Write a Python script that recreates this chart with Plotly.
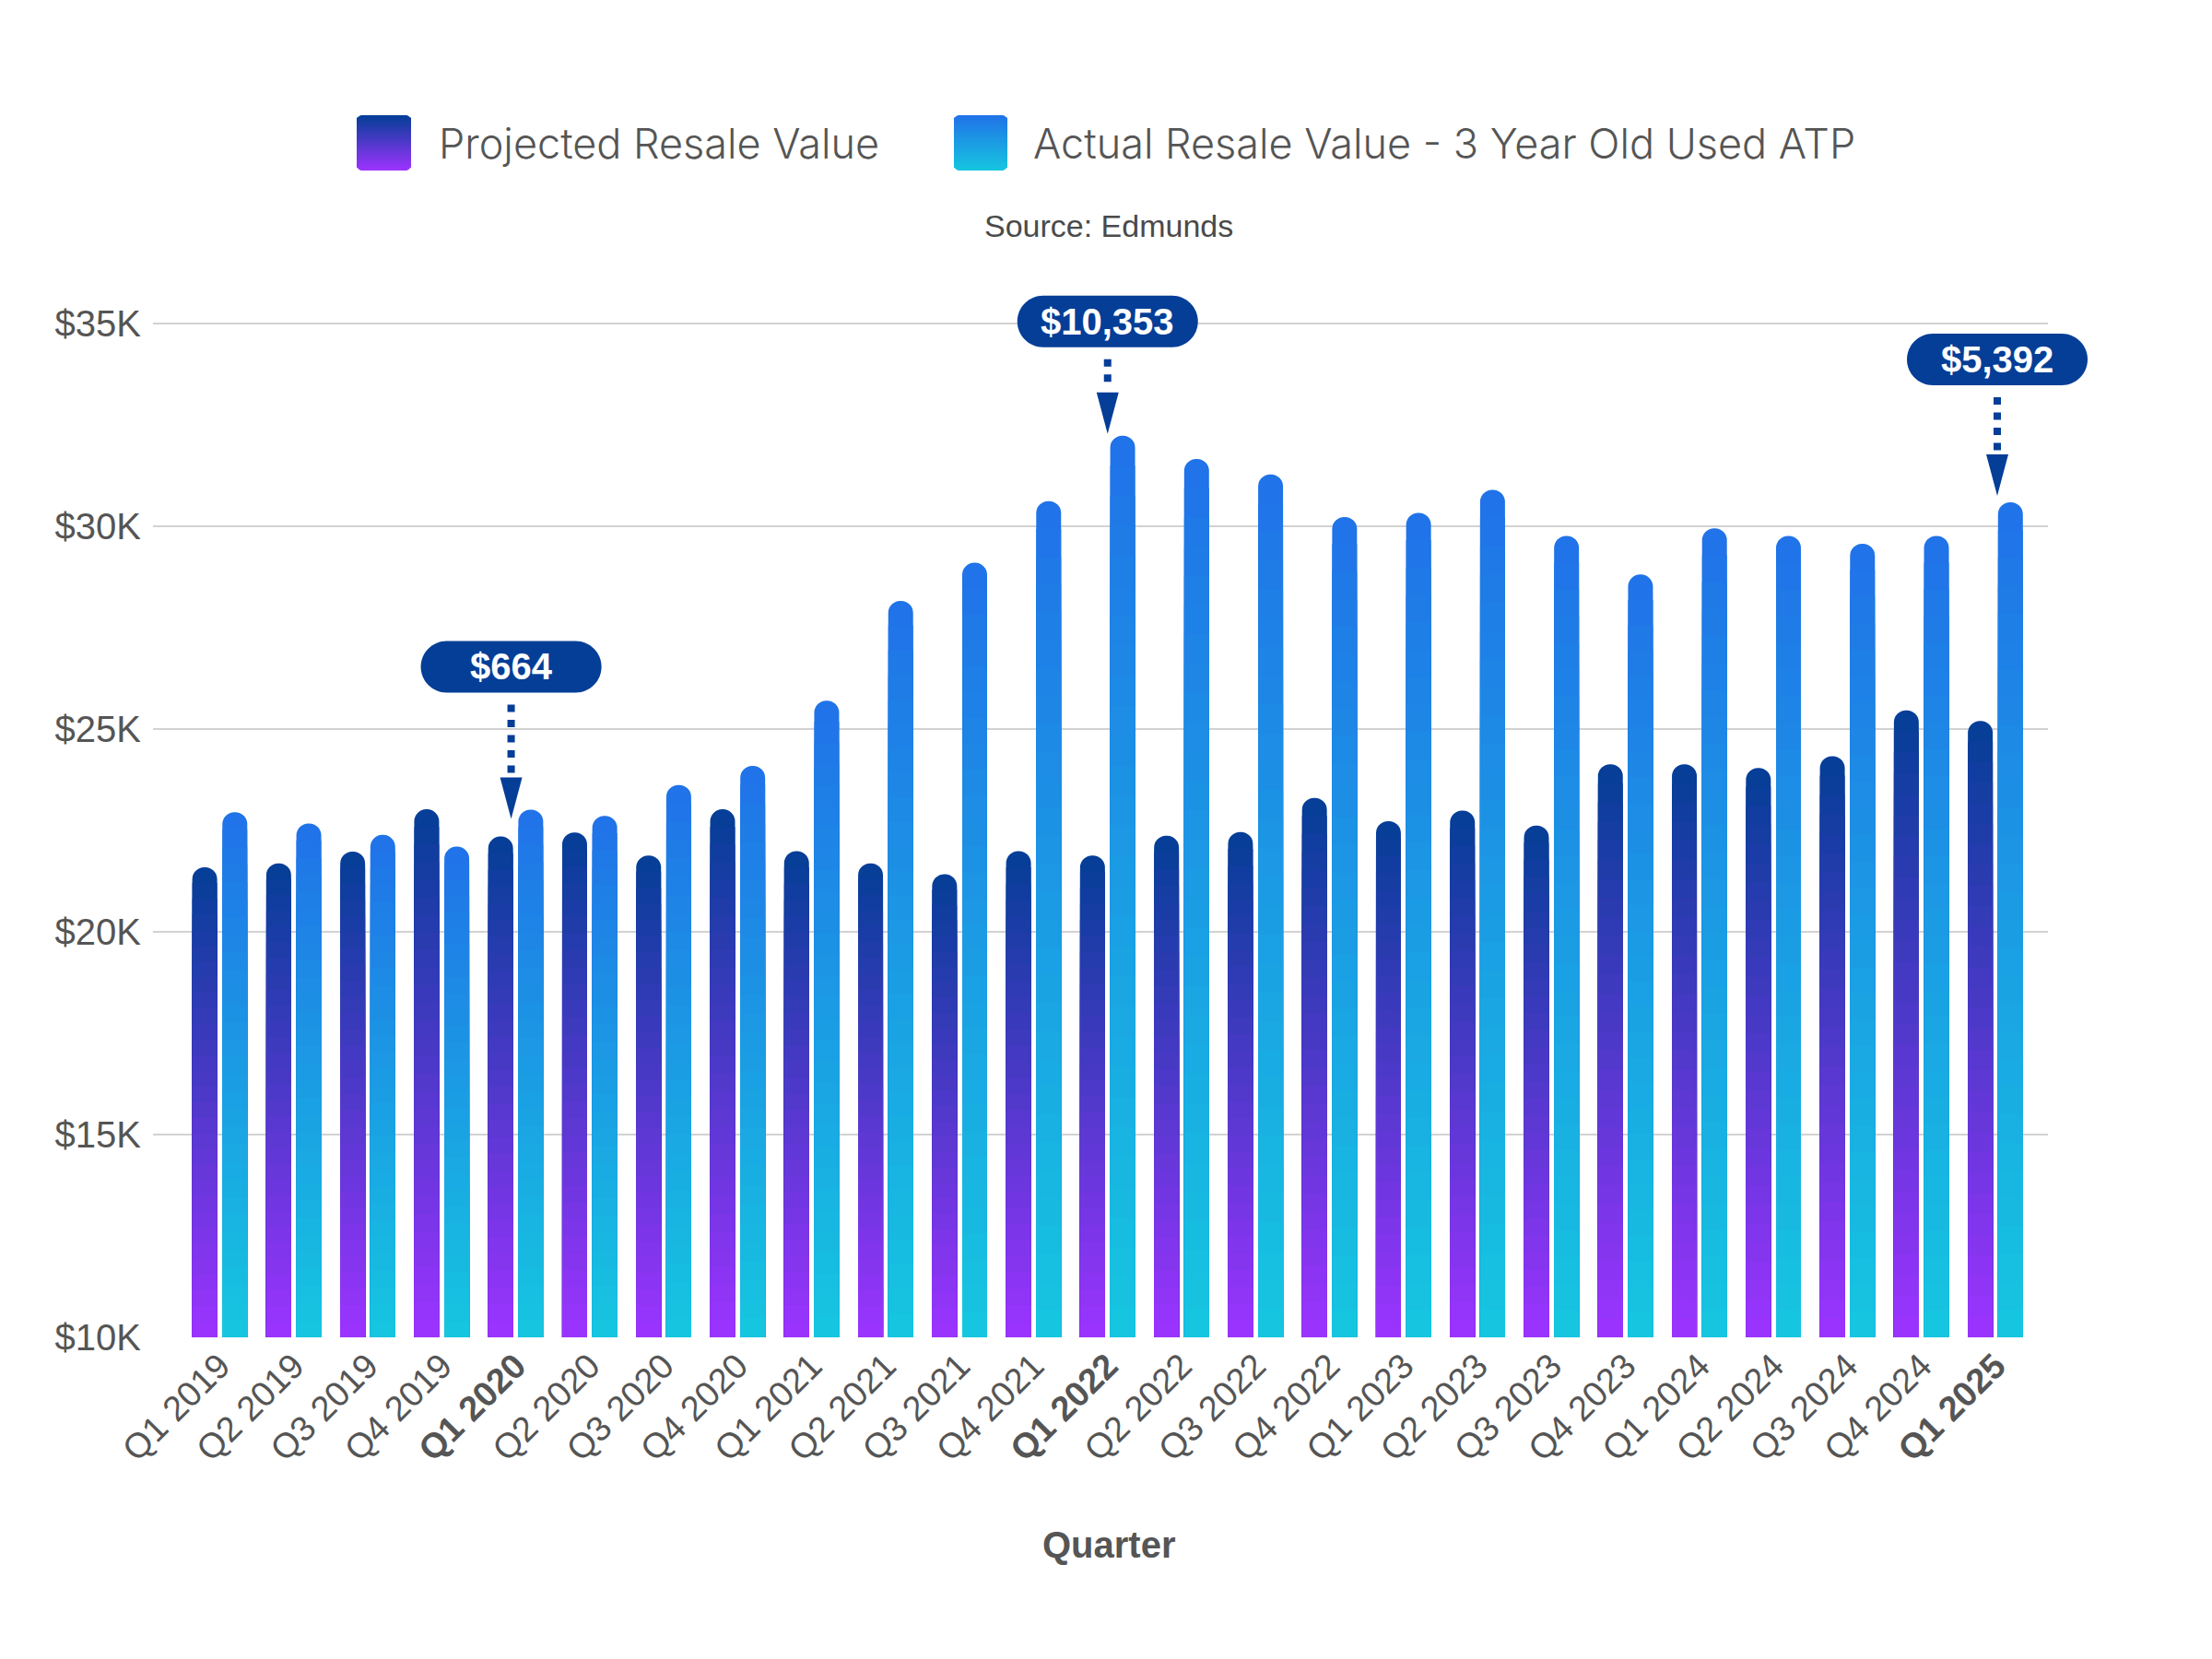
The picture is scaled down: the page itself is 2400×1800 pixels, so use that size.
import plotly.graph_objects as go

# ---------------- data ----------------
quarters = ["Q1 2019", "Q2 2019", "Q3 2019", "Q4 2019",
            "Q1 2020", "Q2 2020", "Q3 2020", "Q4 2020",
            "Q1 2021", "Q2 2021", "Q3 2021", "Q4 2021",
            "Q1 2022", "Q2 2022", "Q3 2022", "Q4 2022",
            "Q1 2023", "Q2 2023", "Q3 2023", "Q4 2023",
            "Q1 2024", "Q2 2024", "Q3 2024", "Q4 2024",
            "Q1 2025"]
projected = [21590, 21690, 21980, 23020, 22350, 22450, 21880, 23020,
             21990, 21690, 21420, 21990, 21880, 22370, 22460, 23300,
             22730, 22990, 22620, 24130, 24130, 24040, 24330, 25460,
             25200]
actual = [22950, 22670, 22390, 22100, 23014, 22860, 23620, 24090,
          25700, 28160, 29100, 30620, 32233, 31660, 31280, 30230,
          30330, 30900, 29760, 28810, 29950, 29760, 29570, 29760,
          30592]
bold_quarters = ["Q1 2020", "Q1 2022", "Q1 2025"]
callout_quarters = ["Q1 2020", "Q1 2022", "Q1 2025"]
callout_labels = ["$664", "$10,353", "$5,392"]
y_tickvals = [10000, 15000, 20000, 25000, 30000, 35000]
y_ticktext = ["$10K", "$15K", "$20K", "$25K", "$30K", "$35K"]
series_names = ["Projected Resale Value", "Actual Resale Value - 3 Year Old Used ATP"]

# ---------------- style ----------------
W, H = 2400, 1800
PAGE = 8                                    # body margin of the html page
PL, PR, PT, PB = 166 - PAGE, 2222 - PAGE, 263 - PAGE, 1451 - PAGE   # plot area (figure px)
XR = [-0.903, 24.71]
YR = [10000, 37000]
BASE = 10000
N_SLICES = 30
BAR_W = 0.336
OFFSETS = [-0.372, 0.035]
DARK_TOP, DARK_BOT = (3, 62, 150), (157, 51, 255)
LIGHT_TOP, LIGHT_BOT = (32, 114, 232), (22, 198, 224)
NAVY = "#043E97"
TXT = "#555555"
FONT = "Liberation Sans, Arial, sans-serif"

# callout geometry (pixels, relative to the actual-value bar top, positive = up)
tip_px = [-10, 2, 7]
pill_px = [155, 124, 155]
shift_px = [-5, 0, 2]


def lerp(c1, c2, t):
    return "rgb(%d,%d,%d)" % tuple(round(a + (b - a) * t) for a, b in zip(c1, c2))


fig = go.Figure()

for vals, top, bot, off, name in [(projected, DARK_TOP, DARK_BOT, OFFSETS[0], series_names[0]),
                                  (actual, LIGHT_TOP, LIGHT_BOT, OFFSETS[1], series_names[1])]:
    for k in range(N_SLICES):
        frac = 1 - k / N_SLICES
        t = 1 - (k + 0.5) / N_SLICES
        fig.add_trace(go.Bar(
            x=quarters,
            y=[(v - BASE) * frac for v in vals],
            base=BASE,
            offset=off,
            width=BAR_W,
            name=name,
            customdata=vals,
            hovertemplate="%{x}<br>" + name + ": $%{customdata:,}<extra></extra>",
            hoverinfo=None if k == 0 else "skip",
            marker=dict(color=lerp(bot, top, t), line=dict(width=0),
                        cornerradius="50%" if k == 0 else 0),
            showlegend=False,
        ))


def pxx(px):
    # page px -> paper fraction
    return (px - PAGE - PL) / (PR - PL)


def pxy(py):
    return (PB - (py - PAGE)) / (PB - PT)


def xfrac(cat):
    idx = quarters.index(cat)
    return (idx - XR[0]) / (XR[1] - XR[0])


def rrect(x0, y0, x1, y1, rt, rb):
    # rounded rectangle path in pixels, y up; x0<x1, y0<y1
    k = 0.5523
    p = "M%.2f,%.2f " % (x0 + rb, y0)
    p += "L%.2f,%.2f " % (x1 - rb, y0)
    if rb:
        p += "C%.2f,%.2f %.2f,%.2f %.2f,%.2f " % (x1 - rb + k * rb, y0, x1, y0 + rb - k * rb, x1, y0 + rb)
    p += "L%.2f,%.2f " % (x1, y1 - rt)
    if rt:
        p += "C%.2f,%.2f %.2f,%.2f %.2f,%.2f " % (x1, y1 - rt + k * rt, x1 - rt + k * rt, y1, x1 - rt, y1)
    p += "L%.2f,%.2f " % (x0 + rt, y1)
    if rt:
        p += "C%.2f,%.2f %.2f,%.2f %.2f,%.2f " % (x0 + rt - k * rt, y1, x0, y1 - rt + k * rt, x0, y1 - rt)
    p += "L%.2f,%.2f " % (x0, y0 + rb)
    if rb:
        p += "C%.2f,%.2f %.2f,%.2f %.2f,%.2f " % (x0, y0 + rb - k * rb, x0 + rb - k * rb, y0, x0 + rb, y0)
    return p + "Z"


shapes = []
annotations = []

# ---- callouts ----
for cat, lab, tp, pp, sx in zip(callout_quarters, callout_labels, tip_px, pill_px, shift_px):
    v = actual[quarters.index(cat)]
    xa = xfrac(cat)
    common = dict(xref="paper", yref="y", xsizemode="pixel", ysizemode="pixel",
                  xanchor=xa, yanchor=v, layer="above")
    shapes.append(dict(type="path", path=rrect(sx - 98, pp - 28, sx + 98, pp + 28, 28, 28),
                       fillcolor=NAVY, line=dict(width=0), **common))
    shapes.append(dict(type="path",
                       path="M%.1f,%.1f L%.1f,%.1f L%.1f,%.1f Z" % (sx - 12, tp + 45, sx + 12, tp + 45, sx, tp),
                       fillcolor=NAVY, line=dict(width=0), **common))
    shapes.append(dict(type="line", x0=sx, x1=sx, y0=pp - 28 - 13, y1=tp + 49,
                       line=dict(color=NAVY, width=8, dash="8px,8.5px"), **common))
    annotations.append(dict(x=cat, y=v, xref="x", yref="y", yshift=pp, xshift=sx,
                            showarrow=False,
                            text="<b>%s</b>" % lab, xanchor="center", yanchor="middle",
                            font=dict(family=FONT, size=40, color="white")))

# ---- custom legend (page px) ----
legend_items = [(387, 446, 474, DARK_TOP, DARK_BOT, series_names[0]),
                (1035, 1093, 1119, LIGHT_TOP, LIGHT_BOT, series_names[1])]
LY0, LY1 = 125, 185
NB = 20
for sx0, sx1, tx, top, bot, name in legend_items:
    cx = (sx0 + sx1) / 2
    hw = (sx1 - sx0) / 2
    hh = (LY1 - LY0) / 2
    bh = (LY1 - LY0) / NB
    for b in range(NB):
        ylo = -hh + b * bh
        yhi = ylo + bh + (0.6 if b < NB - 1 else 0)
        rb = 6 if b == 0 else 0
        rt = 6 if b == NB - 1 else 0
        shapes.append(dict(type="path", xref="paper", yref="paper",
                           xsizemode="pixel", ysizemode="pixel",
                           xanchor=pxx(cx), yanchor=pxy((LY0 + LY1) / 2),
                           path=rrect(-hw, ylo, hw, yhi, rt, rb),
                           fillcolor=lerp(bot, top, (b + 0.5) / NB), line=dict(width=0)))
    annotations.append(dict(x=pxx(tx), y=pxy(155), xref="paper", yref="paper",
                            text=name, showarrow=False, xanchor="left", yanchor="middle",
                            font=dict(family="Inter, Roboto, sans-serif", size=45,
                                      color=TXT, weight=300)))

annotations.append(dict(x=pxx(1203), y=pxy(245), xref="paper", yref="paper",
                        text="Source: Edmunds", showarrow=False, xanchor="center",
                        yanchor="middle", font=dict(family=FONT, size=34, color="#4a4a4a")))
annotations.append(dict(x=pxx(1203), y=pxy(1676), xref="paper", yref="paper",
                        text="<b>Quarter</b>", showarrow=False, xanchor="center",
                        yanchor="middle", font=dict(family=FONT, size=40, color=TXT)))

x_ticktext = ["<b>%s</b>" % q if q in bold_quarters else q for q in quarters]

fig.update_layout(
    width=W, height=H,
    margin=dict(l=PL, r=W - PR, t=PT, b=H - PB, pad=0),
    paper_bgcolor="white", plot_bgcolor="white",
    barmode="overlay",
    showlegend=False,
    shapes=shapes,
    annotations=annotations,
    xaxis=dict(type="category", range=XR, tickmode="array", tickvals=quarters,
               ticktext=x_ticktext, tickangle=-45, showgrid=False, showline=False,
               zeroline=False, ticks="", tickfont=dict(family=FONT, size=38, color=TXT)),
    yaxis=dict(range=YR, tickmode="array", tickvals=y_tickvals, ticktext=y_ticktext,
               showgrid=True, gridcolor="#d2d2d2", gridwidth=2, zeroline=False,
               showline=False, ticks="", ticklabelstandoff=12,
               tickfont=dict(family=FONT, size=40, color=TXT)),
)

fig.write_html("out.html")
